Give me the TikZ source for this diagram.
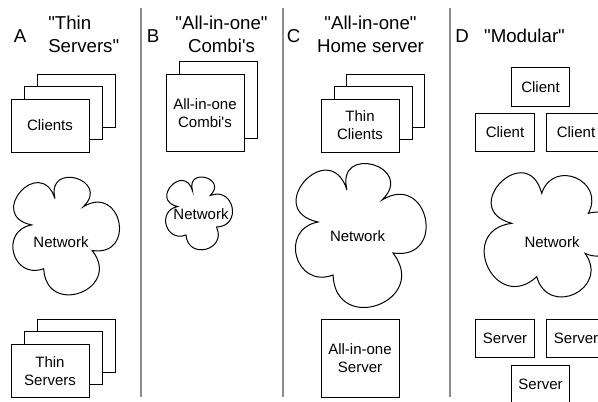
\documentclass[tikz,border=0pt]{standalone}
\usepackage{fontspec}
\usetikzlibrary{calc}
\setmainfont{Liberation Sans}
\newcommand\ttlfont{\fontsize{14}{17.25}\selectfont}
\newcommand\bxfont{\fontsize{11.25}{13.5}\selectfont}
\newcommand\qq{\textquotedbl}
\tikzset{
  cloudline/.style={draw=black, line width=0.75pt, fill=white},
  sepline/.style={draw=black!45, line width=1.3pt},
  lett/.style={font=\ttlfont, inner sep=0pt, anchor=base},
  ttl/.style={font=\ttlfont, inner sep=0pt},
  bx/.style={draw=black, fill=white, line width=0.75pt, inner sep=0pt, align=center, font=\bxfont},
  stackbox/.style={bx, minimum width=58.5pt, minimum height=39.75pt},
  tallbox/.style={bx, minimum width=58.5pt, minimum height=57.75pt},
  smallbox/.style={bx, minimum width=43.9pt, minimum height=28.9pt},
  lbl/.style={font=\bxfont, inner sep=0pt, align=center},
}
\begin{document}
\begin{tikzpicture}[x=0.75pt, y=-0.75pt]
\useasboundingbox (0,0) rectangle (598,401);
\clip (0,0) rectangle (598,401);
% separators
\coordinate (s1t) at (141,8);  \coordinate (s1b) at (141,397);
\coordinate (s2t) at (283,8);  \coordinate (s2b) at (283,397);
\coordinate (s3t) at (450,8);  \coordinate (s3b) at (450,397);
\draw[sepline] (s1t) -- (s1b);
\draw[sepline] (s2t) -- (s2b);
\draw[sepline] (s3t) -- (s3b);
% titles
\node[lett] (la) at (20,42) {A};
\node[ttl, align=left, anchor=west] (ta) at (48,34.7) {\qq Thin\\Servers\qq};
\node[lett] (lb) at (153,42) {B};
\node[ttl, align=center] (tb) at (221.5,34.7) {\qq All-in-one\qq\\Combi\textquotesingle s};
\node[lett] (lc) at (293.5,42) {C};
\node[ttl, align=center] (tc) at (370.5,34.7) {\qq All-in-one\qq\\Home server};
\node[lett] (ld) at (462,42) {D};
\node[lett] (td) at (524.5,42) {\qq Modular\qq};
% cloud dips
\coordinate (ap1) at (31.6,224.9); \coordinate (ap2) at (55,198.6); \coordinate (ap3) at (83.2,206.8);
\coordinate (ap4) at (92.2,250.5); \coordinate (ap5) at (43.7,268.7);
\coordinate (bp1) at (177.7,206.5); \coordinate (bp2) at (192.4,190.5); \coordinate (bp3) at (210.2,195.5);
\coordinate (bp4) at (216.5,227); \coordinate (bp5) at (186,235);
\coordinate (cp1) at (318,222); \coordinate (cp2) at (347,190); \coordinate (cp3) at (382,200);
\coordinate (cp4) at (393,253); \coordinate (cp5) at (333,275);
\coordinate (dp1) at (511.7,223.3); \coordinate (dp2) at (541.7,193.3); \coordinate (dp3) at (588.3,213.3);
\coordinate (dp4) at (585,253.3); \coordinate (dp5) at (536.7,276.7);
% A
\node[stackbox] (a1c) at (76,100.5) {};
\node[stackbox] (a2c) at (63,113) {};
\node[stackbox] (a3c) at (50,125.5) {Clients};
\draw[cloudline] (ap1)
  .. controls ($(ap1)!1.333!120:(ap2)$) and ($(ap2)!1.333!-120:(ap1)$) .. (ap2)
  .. controls ($(ap2)!1.333!120:(ap3)$) and ($(ap3)!1.333!-120:(ap2)$) .. (ap3)
  .. controls ($(ap3)!1.013!110:(ap4)$) and ($(ap4)!1.013!-110:(ap3)$) .. (ap4)
  .. controls ($(ap4)!0.953!107.5:(ap5)$) and ($(ap5)!0.953!-107.5:(ap4)$) .. (ap5)
  .. controls ($(ap5)!0.730!95:(ap1)$) and ($(ap1)!0.730!-95:(ap5)$) .. (ap1) -- cycle;
\node[lbl] (neta) at (61,242) {Network};
\node[stackbox] (a1s) at (76,345.5) {};
\node[stackbox] (a2s) at (63,358) {};
\node[stackbox] (a3s) at (50,371) {Thin\\Servers};
% B
\node[tallbox] (b1) at (218,99.5) {};
\node[tallbox] (b2) at (205,113) {All-in-one\\Combi\textquotesingle s};
\draw[cloudline] (bp1)
  .. controls ($(bp1)!1.333!120:(bp2)$) and ($(bp2)!1.333!-120:(bp1)$) .. (bp2)
  .. controls ($(bp2)!1.333!120:(bp3)$) and ($(bp3)!1.333!-120:(bp2)$) .. (bp3)
  .. controls ($(bp3)!0.807!100:(bp4)$) and ($(bp4)!0.807!-100:(bp3)$) .. (bp4)
  .. controls ($(bp4)!0.807!100:(bp5)$) and ($(bp5)!0.807!-100:(bp4)$) .. (bp5)
  .. controls ($(bp5)!0.730!95:(bp1)$) and ($(bp1)!0.730!-95:(bp5)$) .. (bp1) -- cycle;
\node[lbl] (netb) at (201,214) {Network};
% C
\node[stackbox] (c1) at (385.5,100.5) {};
\node[stackbox] (c2) at (373,113) {};
\node[stackbox] (c3) at (360,125.5) {Thin\\Clients};
\draw[cloudline] (cp1)
  .. controls ($(cp1)!1.333!120:(cp2)$) and ($(cp2)!1.333!-120:(cp1)$) .. (cp2)
  .. controls ($(cp2)!1.333!120:(cp3)$) and ($(cp3)!1.333!-120:(cp2)$) .. (cp3)
  .. controls ($(cp3)!1.013!110:(cp4)$) and ($(cp4)!1.013!-110:(cp3)$) .. (cp4)
  .. controls ($(cp4)!0.953!107.5:(cp5)$) and ($(cp5)!0.953!-107.5:(cp4)$) .. (cp5)
  .. controls ($(cp5)!0.730!95:(cp1)$) and ($(cp1)!0.730!-95:(cp5)$) .. (cp1) -- cycle;
\node[lbl] (netc) at (357.5,236) {Network};
\node[bx, minimum width=58.5pt, minimum height=58.5pt] (cs) at (360,358) {All-in-one\\Server};
% D
\node[smallbox] (dc1) at (540.5,87) {Client};
\node[smallbox] (dc2) at (505,132.5) {Client};
\node[smallbox] (dc3) at (576,132.5) {Client};
\draw[cloudline] (dp1)
  .. controls ($(dp1)!1.333!120:(dp2)$) and ($(dp2)!1.333!-120:(dp1)$) .. (dp2)
  .. controls ($(dp2)!0.730!95:(dp3)$) and ($(dp3)!0.730!-95:(dp2)$) .. (dp3)
  .. controls ($(dp3)!1.013!110:(dp4)$) and ($(dp4)!1.013!-110:(dp3)$) .. (dp4)
  .. controls ($(dp4)!0.807!100:(dp5)$) and ($(dp5)!0.807!-100:(dp4)$) .. (dp5)
  .. controls ($(dp5)!0.953!107.5:(dp1)$) and ($(dp1)!0.953!-107.5:(dp5)$) .. (dp1) -- cycle;
\node[lbl] (netd) at (552,242) {Network};
\node[smallbox] (ds1) at (505,338.5) {Server};
\node[smallbox] (ds2) at (576,338.5) {Server};
\node[smallbox] (ds3) at (540.5,384.5) {Server};
\end{tikzpicture}
\end{document}
